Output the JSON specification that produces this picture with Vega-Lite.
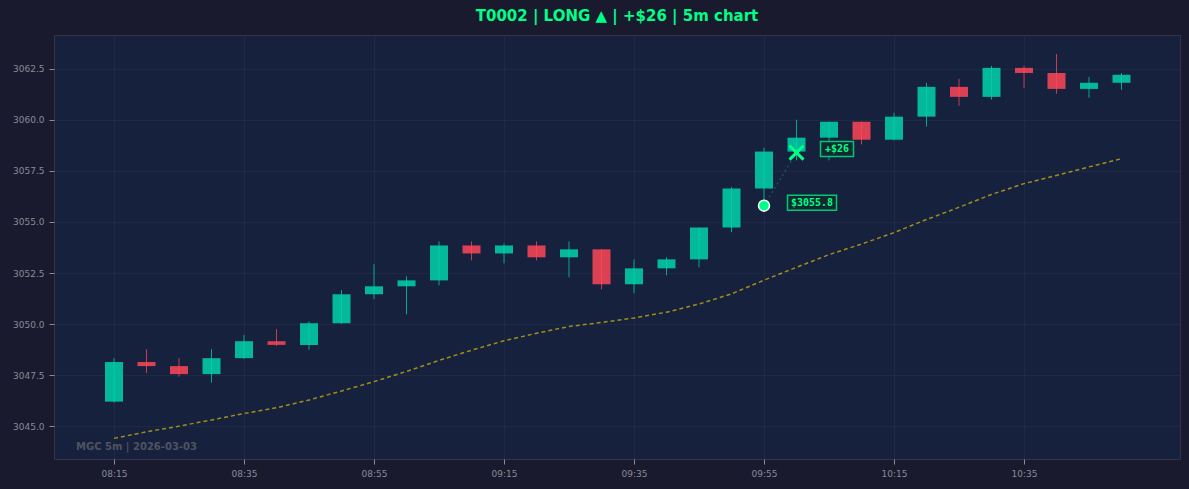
{
  "$schema": "https://vega.github.io/schema/vega-lite/v6.json",
  "width": 1126,
  "height": 424,
  "autosize": {"type": "none"},
  "padding": {"left": 54, "top": 35, "right": 9, "bottom": 30},
  "background": "#1a1a2e",
  "title": {
    "text": "T0002 | LONG ▲ | +$26 | 5m chart",
    "color": "#00ff88",
    "font": "DejaVu Sans",
    "fontSize": 15,
    "fontWeight": "bold",
    "anchor": "middle",
    "frame": "group",
    "baseline": "bottom",
    "offset": -4
  },
  "config": {
    "view": {"fill": "#16213e", "stroke": "#33334a", "strokeWidth": 1},
    "axis": {
      "labelColor": "#8a8a96",
      "labelFont": "DejaVu Sans",
      "labelFontSize": 9,
      "tickColor": "#8a8a96",
      "tickSize": 5,
      "labelPadding": 5,
      "domain": false,
      "gridColor": "#ffffff",
      "gridOpacity": 0.04,
      "gridWidth": 1
    }
  },
  "datasets": {
    "candles": [
      {"t": "2026-03-03T08:15:00", "open": 3046.20, "high": 3048.33, "low": 3046.15, "close": 3048.14, "vwap": 3044.40},
      {"t": "2026-03-03T08:20:00", "open": 3048.14, "high": 3048.77, "low": 3047.61, "close": 3047.94, "vwap": 3044.72},
      {"t": "2026-03-03T08:25:00", "open": 3047.94, "high": 3048.33, "low": 3047.42, "close": 3047.55, "vwap": 3045.00},
      {"t": "2026-03-03T08:30:00", "open": 3047.55, "high": 3048.77, "low": 3047.13, "close": 3048.33, "vwap": 3045.30},
      {"t": "2026-03-03T08:35:00", "open": 3048.33, "high": 3049.46, "low": 3048.30, "close": 3049.16, "vwap": 3045.62},
      {"t": "2026-03-03T08:40:00", "open": 3049.16, "high": 3049.75, "low": 3048.93, "close": 3048.98, "vwap": 3045.90},
      {"t": "2026-03-03T08:45:00", "open": 3048.98, "high": 3050.14, "low": 3048.74, "close": 3050.04, "vwap": 3046.28},
      {"t": "2026-03-03T08:50:00", "open": 3050.04, "high": 3051.66, "low": 3050.01, "close": 3051.46, "vwap": 3046.72},
      {"t": "2026-03-03T08:55:00", "open": 3051.46, "high": 3052.93, "low": 3051.23, "close": 3051.85, "vwap": 3047.18},
      {"t": "2026-03-03T09:00:00", "open": 3051.85, "high": 3052.34, "low": 3050.48, "close": 3052.14, "vwap": 3047.68},
      {"t": "2026-03-03T09:05:00", "open": 3052.14, "high": 3054.05, "low": 3051.90, "close": 3053.85, "vwap": 3048.22},
      {"t": "2026-03-03T09:10:00", "open": 3053.85, "high": 3054.05, "low": 3053.12, "close": 3053.46, "vwap": 3048.72},
      {"t": "2026-03-03T09:15:00", "open": 3053.46, "high": 3053.95, "low": 3052.97, "close": 3053.85, "vwap": 3049.18},
      {"t": "2026-03-03T09:20:00", "open": 3053.85, "high": 3054.05, "low": 3053.12, "close": 3053.27, "vwap": 3049.55},
      {"t": "2026-03-03T09:25:00", "open": 3053.27, "high": 3054.05, "low": 3052.29, "close": 3053.66, "vwap": 3049.88},
      {"t": "2026-03-03T09:30:00", "open": 3053.66, "high": 3053.66, "low": 3051.70, "close": 3051.95, "vwap": 3050.08},
      {"t": "2026-03-03T09:35:00", "open": 3051.95, "high": 3053.17, "low": 3051.51, "close": 3052.73, "vwap": 3050.30},
      {"t": "2026-03-03T09:40:00", "open": 3052.73, "high": 3053.27, "low": 3052.39, "close": 3053.17, "vwap": 3050.58},
      {"t": "2026-03-03T09:45:00", "open": 3053.17, "high": 3054.73, "low": 3052.78, "close": 3054.73, "vwap": 3050.98},
      {"t": "2026-03-03T09:50:00", "open": 3054.73, "high": 3056.72, "low": 3054.50, "close": 3056.64, "vwap": 3051.48},
      {"t": "2026-03-03T09:55:00", "open": 3056.64, "high": 3058.64, "low": 3055.85, "close": 3058.45, "vwap": 3052.15},
      {"t": "2026-03-03T10:00:00", "open": 3058.45, "high": 3060.01, "low": 3058.02, "close": 3059.13, "vwap": 3052.78},
      {"t": "2026-03-03T10:05:00", "open": 3059.13, "high": 3059.91, "low": 3058.02, "close": 3059.91, "vwap": 3053.40},
      {"t": "2026-03-03T10:10:00", "open": 3059.91, "high": 3059.91, "low": 3058.80, "close": 3059.03, "vwap": 3053.92},
      {"t": "2026-03-03T10:15:00", "open": 3059.03, "high": 3060.35, "low": 3059.00, "close": 3060.16, "vwap": 3054.48},
      {"t": "2026-03-03T10:20:00", "open": 3060.16, "high": 3061.82, "low": 3059.67, "close": 3061.62, "vwap": 3055.12},
      {"t": "2026-03-03T10:25:00", "open": 3061.62, "high": 3062.01, "low": 3060.69, "close": 3061.13, "vwap": 3055.72},
      {"t": "2026-03-03T10:30:00", "open": 3061.13, "high": 3062.65, "low": 3060.99, "close": 3062.55, "vwap": 3056.35},
      {"t": "2026-03-03T10:35:00", "open": 3062.55, "high": 3062.65, "low": 3061.57, "close": 3062.30, "vwap": 3056.88},
      {"t": "2026-03-03T10:40:00", "open": 3062.30, "high": 3063.23, "low": 3061.28, "close": 3061.52, "vwap": 3057.28},
      {"t": "2026-03-03T10:45:00", "open": 3061.52, "high": 3062.11, "low": 3061.08, "close": 3061.82, "vwap": 3057.70},
      {"t": "2026-03-03T10:50:00", "open": 3061.82, "high": 3062.30, "low": 3061.47, "close": 3062.21, "vwap": 3058.10}
    ],
    "trade": [
      {"entry_time": "2026-03-03T09:55:00", "entry_price": 3055.8, "exit_time": "2026-03-03T10:00:00", "exit_price": 3058.4, "entry_label": "$3055.8", "pnl_label": "+$26"}
    ]
  },
  "layer": [
    {
      "data": {"name": "candles"},
      "mark": {"type": "bar", "opacity": 0.85},
      "encoding": {
        "x": {
          "field": "t", "type": "temporal", "title": null,
          "scale": {"nice": false, "padding": 0, "domain": [
            {"year": 2026, "month": 3, "date": 3, "hours": 8, "minutes": 5, "seconds": 46},
            {"year": 2026, "month": 3, "date": 3, "hours": 10, "minutes": 59, "seconds": 0}
          ]},
          "axis": {
            "format": "%H:%M",
            "grid": true,
            "values": [
              {"year": 2026, "month": 3, "date": 3, "hours": 8, "minutes": 15},
              {"year": 2026, "month": 3, "date": 3, "hours": 8, "minutes": 35},
              {"year": 2026, "month": 3, "date": 3, "hours": 8, "minutes": 55},
              {"year": 2026, "month": 3, "date": 3, "hours": 9, "minutes": 15},
              {"year": 2026, "month": 3, "date": 3, "hours": 9, "minutes": 35},
              {"year": 2026, "month": 3, "date": 3, "hours": 9, "minutes": 55},
              {"year": 2026, "month": 3, "date": 3, "hours": 10, "minutes": 15},
              {"year": 2026, "month": 3, "date": 3, "hours": 10, "minutes": 35}
            ]
          }
        },
        "y": {
          "field": "open", "type": "quantitative", "title": null,
          "scale": {"domain": [3043.39, 3064.16], "nice": false, "zero": false},
          "axis": {
            "format": ".1f",
            "grid": true,
            "values": [3045, 3047.5, 3050, 3052.5, 3055, 3057.5, 3060, 3062.5]
          }
        },
        "y2": {"field": "close"},
        "size": {"value": 18},
        "color": {"condition": {"test": "datum.close >= datum.open", "value": "#00d4aa"}, "value": "#ff4757"}
      }
    },
    {
      "data": {"name": "candles"},
      "mark": {"type": "rule", "strokeWidth": 1, "opacity": 0.75},
      "encoding": {
        "x": {"field": "t", "type": "temporal", "title": null},
        "y": {"field": "low", "type": "quantitative", "title": null},
        "y2": {"field": "high"},
        "color": {"condition": {"test": "datum.close >= datum.open", "value": "#00d4aa"}, "value": "#ff4757"}
      }
    },
    {
      "data": {"name": "candles"},
      "mark": {"type": "line", "color": "#ffd700", "opacity": 0.6, "strokeWidth": 1.5, "strokeDash": [4, 3]},
      "encoding": {
        "x": {"field": "t", "type": "temporal", "title": null},
        "y": {"field": "vwap", "type": "quantitative", "title": null}
      }
    },
    {
      "data": {"name": "trade"},
      "mark": {"type": "rule", "color": "#00ff88", "opacity": 0.4, "strokeWidth": 1, "strokeDash": [2, 3]},
      "encoding": {
        "x": {"field": "entry_time", "type": "temporal", "title": null},
        "y": {"field": "entry_price", "type": "quantitative", "title": null},
        "x2": {"field": "exit_time"},
        "y2": {"field": "exit_price"}
      }
    },
    {
      "data": {"name": "trade"},
      "mark": {"type": "point", "shape": "circle", "filled": true, "fill": "#00ff88", "stroke": "#ffffff", "strokeWidth": 1.5, "size": 121, "opacity": 1},
      "encoding": {
        "x": {"field": "entry_time", "type": "temporal", "title": null},
        "y": {"field": "entry_price", "type": "quantitative", "title": null}
      }
    },
    {
      "data": {"name": "trade"},
      "mark": {"type": "point", "shape": "M-1,-1L1,1M-1,1L1,-1", "filled": false, "stroke": "#00ff88", "strokeWidth": 3, "size": 196, "opacity": 1},
      "encoding": {
        "x": {"field": "exit_time", "type": "temporal", "title": null},
        "y": {"field": "exit_price", "type": "quantitative", "title": null}
      }
    },
    {
      "data": {"name": "trade"},
      "mark": {"type": "point", "shape": "M-1,-0.306H1V0.306H-1Z", "filled": true, "fill": "#102a30", "stroke": "#00c874", "strokeWidth": 1.5, "size": 2401, "opacity": 1, "xOffset": 48, "yOffset": -3},
      "encoding": {
        "x": {"field": "entry_time", "type": "temporal", "title": null},
        "y": {"field": "entry_price", "type": "quantitative", "title": null}
      }
    },
    {
      "data": {"name": "trade"},
      "mark": {"type": "text", "font": "DejaVu Sans Mono", "fontSize": 10, "fontWeight": "bold", "color": "#00ff88", "align": "center", "baseline": "middle", "dx": 48, "dy": -3},
      "encoding": {
        "x": {"field": "entry_time", "type": "temporal", "title": null},
        "y": {"field": "entry_price", "type": "quantitative", "title": null},
        "text": {"field": "entry_label"}
      }
    },
    {
      "data": {"name": "trade"},
      "mark": {"type": "point", "shape": "M-1,-0.4545H1V0.4545H-1Z", "filled": true, "fill": "#102a30", "stroke": "#00c874", "strokeWidth": 1.5, "size": 1089, "opacity": 1, "xOffset": 40.5, "yOffset": -3.5},
      "encoding": {
        "x": {"field": "exit_time", "type": "temporal", "title": null},
        "y": {"field": "exit_price", "type": "quantitative", "title": null}
      }
    },
    {
      "data": {"name": "trade"},
      "mark": {"type": "text", "font": "DejaVu Sans Mono", "fontSize": 10, "fontWeight": "bold", "color": "#00ff88", "align": "center", "baseline": "middle", "dx": 40.5, "dy": -3.5},
      "encoding": {
        "x": {"field": "exit_time", "type": "temporal", "title": null},
        "y": {"field": "exit_price", "type": "quantitative", "title": null},
        "text": {"field": "pnl_label"}
      }
    },
    {
      "data": {"values": [{}]},
      "mark": {"type": "text", "text": "MGC 5m | 2026-03-03", "font": "DejaVu Sans", "fontSize": 10, "fontWeight": "bold", "color": "#50535f", "align": "left", "baseline": "middle"},
      "encoding": {
        "x": {"datum": {"year": 2026, "month": 3, "date": 3, "hours": 8, "minutes": 9, "seconds": 9}, "type": "temporal", "title": null},
        "y": {"datum": 3044.0, "type": "quantitative", "title": null}
      }
    }
  ]
}
